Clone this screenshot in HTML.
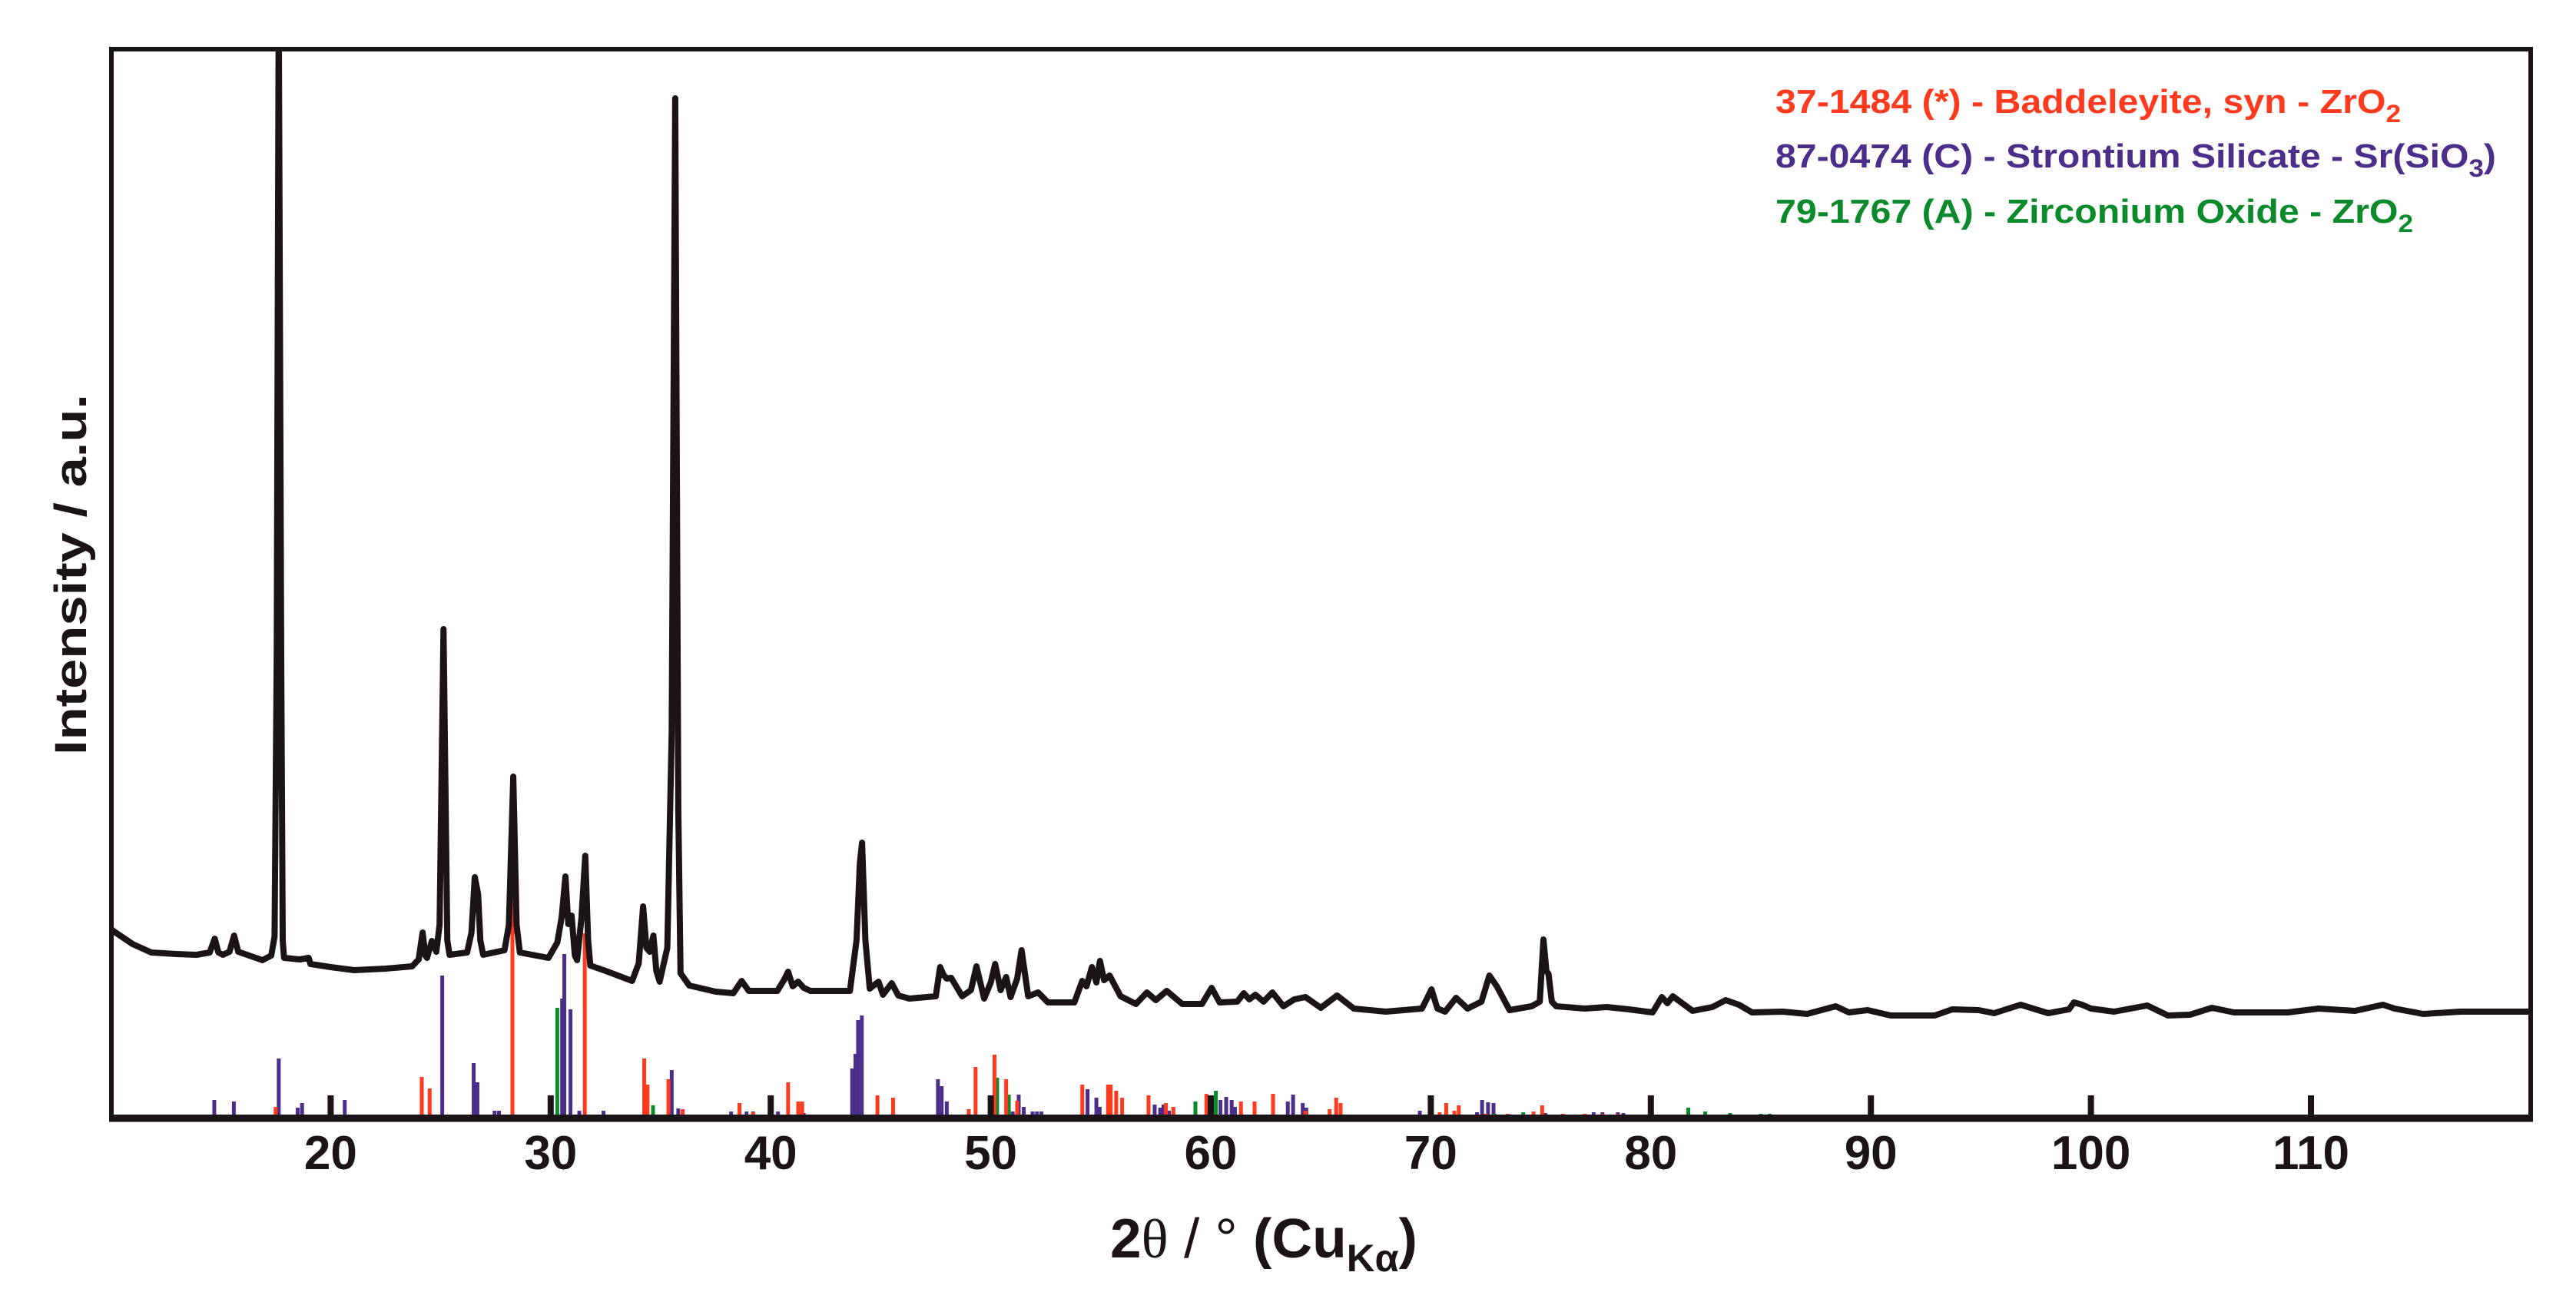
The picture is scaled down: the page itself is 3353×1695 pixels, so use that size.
<!DOCTYPE html>
<html><head><meta charset="utf-8"><style>
html,body{margin:0;padding:0;background:#fff;}
svg{display:block;}
text{font-family:"Liberation Sans",Arial,sans-serif;}
</style></head><body>
<svg id="chart" width="3353" height="1695" viewBox="0 0 3353 1695" xmlns="http://www.w3.org/2000/svg">
<defs><clipPath id="plotclip"><rect x="145" y="64" width="3149" height="1390"/></clipPath></defs>
<g id="sticks"></g>
<g id="ticks"></g>
<g id="curve-g" clip-path="url(#plotclip)"></g>
<rect x="145" y="64" width="3149" height="1390" fill="none" stroke="#1a1418" stroke-width="6"/>
<line x1="142" y1="1456" x2="3297" y2="1456" stroke="#1a1418" stroke-width="9"/>
<g id="ticklabels"></g>
<text x="1445" y="1637" font-size="72" fill="#1a1418" textLength="400" lengthAdjust="spacingAndGlyphs"><tspan font-weight="bold">2</tspan><tspan font-family="Liberation Serif">θ</tspan><tspan> / ° </tspan><tspan font-weight="bold">(Cu</tspan><tspan font-weight="bold" font-size="50" dy="18">Kα</tspan><tspan font-weight="bold" dy="-18">)</tspan></text>
<text transform="translate(112,983) rotate(-90)" font-size="58" font-weight="bold" fill="#1a1418" textLength="470" lengthAdjust="spacingAndGlyphs">Intensity / a.u.</text>
<g font-weight="bold" font-size="44">
<text x="2311" y="147" fill="#ff3b1f" textLength="814" lengthAdjust="spacingAndGlyphs">37-1484 (*) - Baddeleyite, syn - ZrO<tspan font-size="32" dy="12">2</tspan></text>
<text x="2311" y="218" fill="#4b2d8a" textLength="938" lengthAdjust="spacingAndGlyphs">87-0474 (C) - Strontium Silicate - Sr(SiO<tspan font-size="32" dy="12">3</tspan><tspan dy="-12">)</tspan></text>
<text x="2311" y="290" fill="#0a8a2a" textLength="830" lengthAdjust="spacingAndGlyphs">79-1767 (A) - Zirconium Oxide - ZrO<tspan font-size="32" dy="12">2</tspan></text>
</g>
</svg>
<script>
const xTicks=[20,30,40,50,60,70,80,90,100,110];
const xTickLabels=["20","30","40","50","60","70","80","90","100","110"];
const patternX=[10.0,10.17,11.0,11.85,13.0,13.9,14.5,14.73,14.9,15.1,15.4,15.61,15.8,16.1,16.9,17.3,17.45,17.55,17.64,17.75,17.82,17.88,18.6,19.0,19.08,20.0,21.07,22.5,23.7,24.0,24.18,24.3,24.38,24.6,24.8,24.95,25.13,25.3,25.4,26.2,26.4,26.55,26.7,26.8,26.93,27.9,28.1,28.3,28.45,28.6,29.9,30.3,30.5,30.67,30.8,30.95,31.1,31.2,31.4,31.57,31.7,31.8,32.5,33.7,34.0,34.2,34.35,34.5,34.67,34.8,34.95,35.3,35.5,35.66,35.8,35.9,36.3,37.5,38.3,38.68,39.0,40.3,40.6,40.79,41.0,41.25,41.5,41.8,43.6,43.9,44.05,44.15,44.3,44.5,44.9,45.1,45.5,45.8,46.3,47.5,47.7,47.85,48.0,48.2,48.7,49.1,49.35,49.7,50.0,50.2,50.45,50.7,50.9,51.2,51.4,51.7,52.15,52.6,53.8,54.16,54.35,54.6,54.8,54.96,55.15,55.4,55.9,56.6,57.1,57.5,58.0,58.7,59.6,60.04,60.4,61.2,61.5,61.75,62.03,62.4,62.8,63.3,63.8,64.3,65.0,65.74,66.5,67.95,69.6,70.03,70.3,70.65,71.15,71.67,72.3,72.66,73.0,73.58,74.58,74.95,75.12,75.25,75.35,75.5,75.7,77.0,78.0,79.0,80.08,80.5,80.75,81.0,81.9,82.8,83.4,84.0,84.6,86.0,87.1,88.4,89.0,89.85,90.9,92.9,93.7,94.9,95.6,96.8,98.06,99.0,99.23,99.6,100.0,101.05,102.56,103.5,104.5,105.5,106.5,108.95,110.35,112.0,113.27,113.8,115.1,116.8,120];
const patternY=[245,241,225,214,212,211,214,232,214,211,215,236,215,212,204,210,235,600,1450,600,230,207,205,207,199,195,191,193,196,205,240,210,207,229,215,250,635,230,211,214,240,312,290,230,211,217,250,443,250,214,207,227,260,313,251,262,210,204,260,340,230,197,190,177,200,274,220,215,236,190,176,220,500,1326,400,187,171,163,161,177,164,164,178,189,170,176,168,164,164,230,330,357,230,167,176,159,174,158,154,157,195,185,180,181,157,165,196,154,175,199,165,182,156,180,217,157,162,149,149,177,170,195,175,203,178,184,157,147,162,152,164,147,147,168,149,150,161,153,159,150,162,144,153,156,142,158,141,137,141,166,141,137,155,141,150,184,170,139,144,150,231,190,186,150,144,141,143,140,136,156,148,157,138,143,152,146,136,137,134,144,136,139,132,132,140,139,135,146,135,140,149,146,141,137,145,132,133,142,136,136,141,138,146,141,134,137,137];
const redPos=[17.5,24.14,24.5,28.26,31.55,34.25,34.4,35.35,36.0,38.58,39.2,40.79,41.25,41.43,44.85,45.56,49.0,49.31,50.17,50.7,51.2,54.16,55.33,55.45,55.7,55.97,57.17,57.96,58.3,59.8,61.37,61.99,62.83,64.3,65.4,65.7,65.9,70.4,70.7,71.07,71.27,72.5,73.5,74.67,75.06,76.0,77.0,77.8,78.5];
const redH=[13,52,37,353,239,76,42,49,10,18,6,45,20,20,28,25,10,65,81,49,21,42,42,42,34,25,28,18,13,30,20,20,30,8,10,25,18,6,18,8,15,4,4,7,15,4,4,4,4];
const purplePos=[14.71,15.6,17.64,18.5,18.7,20.64,25.07,26.5,26.67,27.45,27.65,30.52,30.62,30.9,31.3,32.4,35.5,35.8,38.2,38.9,39.2,40.33,41.5,43.7,43.85,43.97,44.14,47.6,47.77,48.0,51.0,51.27,51.5,51.9,52.1,52.3,54.4,54.8,54.95,57.45,57.7,57.85,58.1,60.44,60.7,60.95,61.1,63.5,63.74,64.18,64.34,69.5,72.1,72.33,72.6,72.85,75.2,77.4,77.8,78.5,78.75];
const purpleH=[22,20,76,12,18,22,184,70,45,8,8,154,212,140,8,8,61,11,7,7,7,7,5,63,82,126,132,49,40,20,7,29,13,7,7,7,36,25,13,16,12,16,8,22,26,22,13,20,29,18,12,8,6,22,19,18,5,6,6,6,5];
const greenPos=[30.3,34.65,50.29,50.82,59.3,60.23,72.9,74.2,81.7,82.47,83.6,85.0,85.4];
const greenH=[142,15,51,29,20,34,4,6,12,7,5,4,4];

const X0=144, XS=28.64, YB=1454;
function xScale(v){return X0+(v-10)*XS;}
function yScale(v){return YB-v;}
const NS="http://www.w3.org/2000/svg";
function mk(tag,parent){const e=document.createElementNS(NS,tag);parent.appendChild(e);return e;}

const sticks=document.getElementById('sticks');
function drawSticks(pos,h,color,name){
  for(let i=0;i<pos.length;i++){
    const r=mk('rect',sticks);
    
    
    r.setAttribute('x',xScale(pos[i])-2.5);
    r.setAttribute('y',yScale(h[i]));
    r.setAttribute('width',5);
    r.setAttribute('height',h[i]);
    r.setAttribute('fill',color);
  }
}
drawSticks(purplePos,purpleH,'#4b2d8a','stick-strontium-silicate');
drawSticks(greenPos,greenH,'#0a8a2a','stick-zirconium-oxide');
drawSticks(redPos,redH,'#ff3b1f','stick-baddeleyite');

const ticks=document.getElementById('ticks');
const tl=document.getElementById('ticklabels');
for(let i=0;i<xTicks.length;i++){
  const t=mk('rect',ticks);
  
  
  t.setAttribute('x',xScale(xTicks[i])-4);
  t.setAttribute('y',YB-28);
  t.setAttribute('width',8);
  t.setAttribute('height',28);
  t.setAttribute('fill','#1a1418');
  const lb=mk('text',tl);
  
  
  lb.setAttribute('x',xScale(xTicks[i]));
  lb.setAttribute('y',1522);
  lb.setAttribute('text-anchor','middle');
  lb.setAttribute('font-size','62');
  lb.setAttribute('font-weight','bold');
  lb.setAttribute('fill','#1a1418');
  lb.textContent=xTickLabels[i];
}

const cg=document.getElementById('curve-g');
let d='';
for(let i=0;i<patternX.length;i++){d+=(i?'L':'M')+xScale(patternX[i]).toFixed(1)+','+yScale(patternY[i]).toFixed(1);}
const p=mk('path',cg);


p.setAttribute('d',d);
p.setAttribute('fill','none');
p.setAttribute('stroke','#1a1418');
p.setAttribute('stroke-width','8');
p.setAttribute('stroke-linejoin','round');
</script>
</body></html>
